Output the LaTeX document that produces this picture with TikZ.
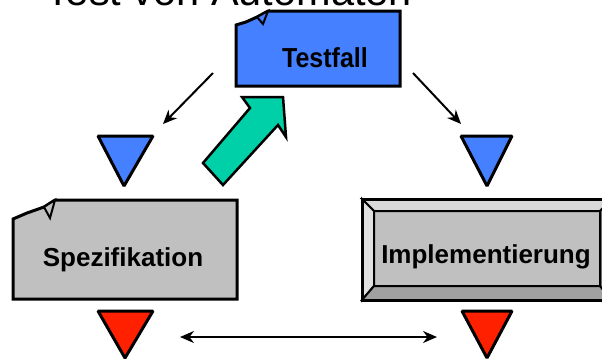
\documentclass[tikz,border=0pt]{standalone}
\usepackage{fontspec}
\setmainfont{Liberation Sans}
\usetikzlibrary{arrows.meta}
\definecolor{tfblue}{HTML}{4480FF}
\definecolor{boxgray}{HTML}{C0C0C0}
\definecolor{arrteal}{HTML}{00D0A8}
\definecolor{trired}{HTML}{FF2000}
\tikzset{
  box/.style={draw=black,line width=3pt,line join=miter},
  tri/.style={draw=black,line width=3pt,line join=bevel},
  lbl/.style={anchor=base,inner sep=0pt,font=\bfseries\fontsize{26}{26}\selectfont},
}

\begin{document}
\begin{tikzpicture}[x=1pt,y=-1pt,>={Stealth[length=14pt,width=12pt]}]
    \useasboundingbox (0,0) rectangle (602,360);
    % title, cut off at the top
    \node[anchor=base west,inner sep=0pt,font=\fontsize{41.5}{41.5}\selectfont] (title) at (45,5) {Test von Automaten};
    % Testfall
    \draw[box,fill=tfblue] (236,25) -- (246,22) -- (257,17) -- (268,11) -- (400,11) -- (400,86) -- (236,86) -- cycle;
    \draw[box,fill=tfblue,line width=2pt] (257,17) -- (268,11) -- (263,24) -- cycle;
    \node[lbl,font=\bfseries\fontsize{25}{25}\selectfont,yscale=1.1] (testfall) at (325,67) {Testfall};
    % Spezifikation
    \draw[box,fill=boxgray] (13,219) -- (27,213) -- (44,207) -- (55,200) -- (237,200) -- (237,299) -- (13,299) -- cycle;
    \draw[box,fill=boxgray,line width=2pt] (44,207) -- (55,200) -- (50,218) -- cycle;
    \node[lbl] (spez) at (123,266) {Spezifikation};
    % Implementierung
    \fill[boxgray] (362,199) rectangle (612,300);
    \filldraw[fill=black!15,line width=2pt] (362,199) -- (612,199) -- (600,211) -- (374,211) -- cycle;
    \filldraw[fill=black!12,line width=2pt] (362,199) -- (374,211) -- (374,286) -- (362,300) -- cycle;
    \filldraw[fill=black!37,line width=2pt] (362,300) -- (374,286) -- (600,286) -- (612,300) -- cycle;
    \filldraw[fill=black!50,line width=2pt] (612,199) -- (600,211) -- (600,286) -- (612,300) -- cycle;
    \draw[box] (362,199) rectangle (612,300);
    \node[lbl] (impl) at (486,263) {Implementierung};
    % triangles
    \draw[tri,fill=tfblue] (98,136) -- (153,136) -- (124,186) -- cycle;
    \draw[tri,fill=tfblue] (461,136) -- (512,136) -- (487,186) -- cycle;
    \draw[tri,fill=trired] (98,311) -- (153,311) -- (125,358) -- cycle;
    \draw[tri,fill=trired] (462,311) -- (512,311) -- (487,358) -- cycle;
    % arrows
    \coordinate (la-s) at (213,73);
    \coordinate (la-e) at (163,124);
    \coordinate (ra-s) at (413,73);
    \coordinate (ra-e) at (461,124);
    \coordinate (da-l) at (180,337);
    \coordinate (da-r) at (437,337);
    \draw[->,line width=2pt] (la-s) -- (la-e);
    \draw[->,line width=2pt] (ra-s) -- (ra-e);
    \draw[<->,line width=2pt] (da-l) -- (da-r);
    % feedback arrow
    \draw[fill=arrteal,line width=2.5pt,line join=miter] (242,97) -- (283,97) -- (286,137) -- (278,125) -- (223,185) -- (203,163) -- (250,108) -- cycle;
  \end{tikzpicture}
\end{document}
